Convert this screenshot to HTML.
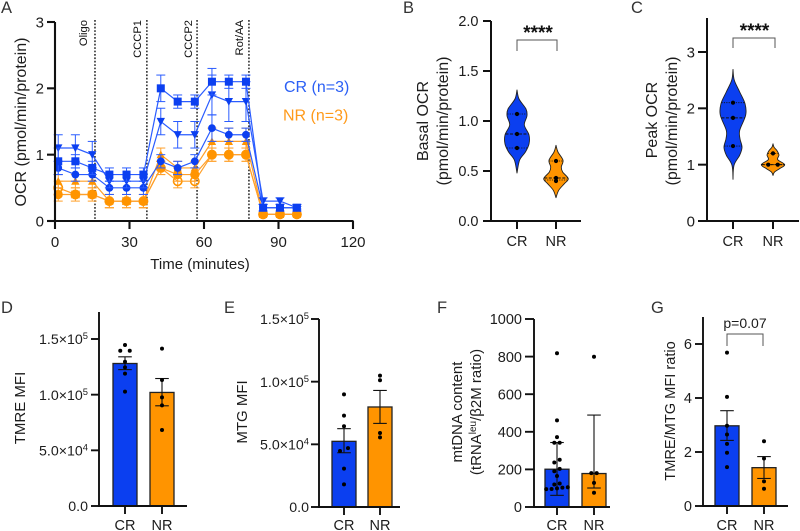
<!DOCTYPE html>
<html lang="en">
<head>
<meta charset="utf-8">
<title>Mitochondrial function panels</title>
<style>
  html, body { margin: 0; padding: 0; background: #fff; }
  #figure { display: block; width: 800px; height: 531px; font-family: "Liberation Sans", Arial, sans-serif; filter: blur(0.35px); }
  text { fill: #1c1c1c; }
  .letter { font-size: 16.5px; fill: #333; }
  .title { font-size: 15.5px; text-anchor: middle; }
  .inj { font-size: 11.2px; text-anchor: end; fill: #111; }
</style>
</head>
<body>
<svg id="figure" xmlns="http://www.w3.org/2000/svg" width="800" height="531" viewBox="0 0 800 531">
  <rect x="0" y="0" width="800" height="531" fill="#fff"/>

  <text class="letter" x="1" y="13">A</text>
  <text class="letter" x="403" y="13">B</text>
  <text class="letter" x="631" y="13">C</text>
  <text class="letter" x="1" y="313">D</text>
  <text class="letter" x="224" y="313">E</text>
  <text class="letter" x="437" y="313">F</text>
  <text class="letter" x="651" y="313">G</text>

  <g id="panelA">
    <text class="title" style="font-size:16px" transform="translate(26,122) rotate(-90)">OCR (pmol/min/protein)</text>
    <text class="title" style="font-size:15px" x="200" y="269">Time (minutes)</text>
    <text style="font-size:16px;fill:#2a5ff5" x="284" y="92">CR (n=3)</text>
    <text style="font-size:16px;fill:#ff9a1a" x="283" y="120.5">NR (n=3)</text>
    <text class="inj" transform="translate(87,20) rotate(-90)">Oligo</text>
    <text class="inj" transform="translate(141,20) rotate(-90)">CCCP1</text>
    <text class="inj" transform="translate(192,20) rotate(-90)">CCCP2</text>
    <text class="inj" transform="translate(243,20) rotate(-90)">Rot/AA</text>
  </g>

  <g id="panelB">
    <text class="title" style="font-size:16px" transform="translate(428,121) rotate(-90)">Basal OCR</text>
    <text class="title" style="font-size:16px" transform="translate(448,121) rotate(-90)">(pmol/min/protein)</text>
    <path d="M517 51V40H557V51" fill="none" stroke="#555" stroke-width="1"/>
    <text x="538" y="39" text-anchor="middle" style="font-size:19px;font-weight:bold;fill:#111">****</text>
  </g>

  <g id="panelC">
    <text class="title" style="font-size:16px" transform="translate(657,120) rotate(-90)">Peak OCR</text>
    <text class="title" style="font-size:16px" transform="translate(677,121) rotate(-90)">(pmol/min/protein)</text>
    <path d="M733 48V38H775V48" fill="none" stroke="#555" stroke-width="1"/>
    <text x="754.5" y="37" text-anchor="middle" style="font-size:19px;font-weight:bold;fill:#111">****</text>
  </g>

  <g id="panelD">
    <text class="title" style="font-size:15px" transform="translate(25,408) rotate(-90)">TMRE MFI</text>
  </g>

  <g id="panelE">
    <text class="title" style="font-size:15px" transform="translate(247,412) rotate(-90)">MTG MFI</text>
  </g>

  <g id="panelF">
    <text class="title" style="font-size:15px" transform="translate(462,412) rotate(-90)">mtDNA content</text>
    <text class="title" style="font-size:15px" transform="translate(481,412) rotate(-90)">(tRNA<tspan dy="-5" font-size="10">leu</tspan><tspan dy="5">/β2M ratio)</tspan></text>
  </g>

  <g id="panelG">
    <text class="title" style="font-size:14.6px" transform="translate(675,411) rotate(-90)">TMRE/MTG MFI ratio</text>
    <path d="M727 346V334H763V346" fill="none" stroke="#555" stroke-width="1"/>
    <text x="745" y="328" text-anchor="middle" style="font-size:14px">p=0.07</text>
  </g>
</svg>

<script>
// ---------- Panel A data ----------
const timeMinutes = [1.3, 8.2, 15, 21.9, 28.8, 35.6, 42.6, 49.4, 56.3, 63.2, 70, 76.9, 83.8, 90.6, 97.4];
const injectionMinutes = [16.1, 37, 57.2, 78.1];
const aXTicks = [0, 30, 60, 90, 120];
const aYTicks = [0, 1, 2, 3];

const crSquare = [0.9, 0.9, 0.8, 0.7, 0.7, 0.7, 2.0, 1.8, 1.8, 2.1, 2.1, 2.1, 0.2, 0.2, 0.2];
const crSquareErr = [0.2, 0.1, 0.1, 0.1, 0.1, 0.1, 0.2, 0.1, 0.1, 0.2, 0.1, 0.1, 0.05, 0.05, 0.05];
const crTriangle = [1.1, 1.1, 1.0, 0.6, 0.6, 0.6, 1.5, 1.3, 1.3, 1.9, 1.8, 1.8, 0.3, 0.3, 0.2];
const crTriangleErr = [0.2, 0.2, 0.2, 0.1, 0.1, 0.1, 0.2, 0.2, 0.2, 0.3, 0.3, 0.3, 0.05, 0.05, 0.02];
const crCircle = [0.8, 0.7, 0.7, 0.5, 0.5, 0.5, 0.9, 0.8, 0.9, 1.4, 1.3, 1.3, 0.2, 0.2, 0.2];
const crCircleErr = [0.1, 0.1, 0.1, 0.1, 0.1, 0.1, 0.1, 0.1, 0.1, 0.2, 0.1, 0.1, 0.05, 0.05, 0.05];
const nrOpen = [0.5, 0.4, 0.4, 0.3, 0.3, 0.3, 0.8, 0.6, 0.6, 1.0, 1.0, 1.0, 0.1, 0.1, 0.1];
const nrOpenErr = [0.1, 0.1, 0.1, 0.1, 0.1, 0.1, 0.1, 0.1, 0.1, 0.1, 0.1, 0.1, 0.02, 0.02, 0.02];
const nrTriangle = [0.6, 0.6, 0.6, 0.3, 0.3, 0.3, 1.0, 0.8, 0.8, 1.2, 1.2, 1.2, 0.1, 0.1, 0.1];
const nrTriangleErr = [0.1, 0.1, 0.1, 0.1, 0.1, 0.1, 0.1, 0.1, 0.1, 0.2, 0.2, 0.2, 0.02, 0.02, 0.02];
const nrFilled = [0.4, 0.4, 0.4, 0.3, 0.3, 0.3, 0.8, 0.7, 0.7, 1.0, 1.0, 1.0, 0.1, 0.1, 0.1];
const nrFilledErr = [0.1, 0.05, 0.05, 0.1, 0.05, 0.1, 0.1, 0.1, 0.1, 0.1, 0.1, 0.1, 0.02, 0.02, 0.02];

// ---------- Shared ----------
const groups = ['CR', 'NR'];

// ---------- Panel B data ----------
const bYTicks = [0, 0.5, 1, 1.5, 2];
const bYLabels = ['0.0', '0.5', '1.0', '1.5', '2.0'];
const bCrPoints = [1.07, 0.87, 0.73];
const bNrPoints = [0.6, 0.43, 0.40];
const bCrLevels = [1.31, 1.22, 1.12, 1.05, 0.96, 0.86, 0.77, 0.69, 0.61, 0.48];
const bCrDensity = [0, 0.17, 0.75, 0.83, 0.61, 1, 1, 0.7, 0.22, 0];
const bNrLevels = [0.757, 0.69, 0.607, 0.54, 0.49, 0.423, 0.373, 0.307, 0.233];
const bNrDensity = [0, 0.16, 0.57, 0.43, 0.54, 1, 0.68, 0.22, 0];
const bCrQuartiles = [0.73, 0.87, 1.07];
const bNrQuartiles = [0.41, 0.43, 0.6];

// ---------- Panel C data ----------
const cYTicks = [0, 1, 2, 3];
const cYLabels = ['0', '1', '2', '3'];
const cCrPoints = [2.1, 1.83, 1.33];
const cNrPoints = [1.2, 1.0, 1.0];
const cCrLevels = [2.69, 2.5, 2.29, 2.08, 1.88, 1.61, 1.46, 1.31, 1.17, 0.99, 0.74];
const cCrDensity = [0, 0.1, 0.53, 0.95, 1, 0.53, 0.55, 0.71, 0.53, 0.08, 0];
const cNrLevels = [1.37, 1.31, 1.25, 1.17, 1.09, 1.0, 0.93, 0.87, 0.81];
const cNrDensity = [0, 0.09, 0.34, 0.51, 0.4, 1, 0.57, 0.14, 0];
const cCrQuartiles = [1.33, 1.83, 2.1];
const cNrQuartiles = [1.0, 1.0, 1.2];

// ---------- Panel D data ----------
const dYTicks = [0, 50000, 100000, 150000];
const dYLabels = ['0.0', '5.0×10^4', '1.0×10^5', '1.5×10^5'];
const dMeans = [128000, 102000];
const dUpper = [134000, 114500];
const dLower = [122500, 90000];
const dCrPoints = [144600, 139500, 139500, 129600, 124500, 118900, 102700];
const dNrPoints = [141300, 113200, 97600, 90400, 68300];

// ---------- Panel E data ----------
const eYTicks = [0, 50000, 100000, 150000];
const eYLabels = ['0.0', '5.0×10^4', '1.0×10^5', '1.5×10^5'];
const eMeans = [52400, 79800];
const eUpper = [62500, 93000];
const eLower = [43300, 66700];
const eCrPoints = [89900, 72900, 64400, 47000, 44700, 30600, 18100];
const eNrPoints = [104800, 101100, 59000, 55600];

// ---------- Panel F data ----------
const fYTicks = [0, 200, 400, 600, 800, 1000];
const fYLabels = ['0', '200', '400', '600', '800', '1000'];
const fMeans = [201, 178];
const fUpper = [343, 489];
const fLower = [62, 101];
const fCrPoints = [818, 461, 372, 342, 342, 251, 237, 203, 190, 165, 125, 120, 105, 103, 99, 96, 95];
const fNrPoints = [799, 180, 180, 128, 76];

// ---------- Panel G data ----------
const gYTicks = [0, 2, 4, 6];
const gYLabels = ['0', '2', '4', '6'];
const gMeans = [2.97, 1.42];
const gUpper = [3.53, 1.83];
const gLower = [2.43, 1.02];
const gCrPoints = [5.68, 4.04, 2.97, 2.65, 2.3, 1.97, 1.44];
const gNrPoints = [2.4, 1.76, 0.91, 0.64];

// ---------- Helpers ----------
const NS = 'http://www.w3.org/2000/svg';
const AXIS = '#111';
const BLUE = '#0b3ff0';
const BLUE_LINE = '#2a5cff';
const ORANGE = '#ff9400';
const ORANGE_LINE = '#ffa02a';

function mk(parent, tag, attrs, name, text) {
  const el = document.createElementNS(NS, tag);
  for (const k in attrs) el.setAttribute(k, attrs[k]);
  
  
  if (text !== undefined) el.textContent = text;
  parent.appendChild(el);
  return el;
}

function linear(d0, d1, r0, r1) {
  return v => r0 + (v - d0) * (r1 - r0) / (d1 - d0);
}

function line(parent, x1, y1, x2, y2, stroke, width, name, extra) {
  const attrs = Object.assign({ x1, y1, x2, y2, stroke, 'stroke-width': width }, extra || {});
  return mk(parent, 'line', attrs, name);
}

function tickLabel(parent, x, y, label, size, anchor, name) {
  const t = mk(parent, 'text', { x, y, 'text-anchor': anchor, 'font-size': size }, name);
  const parts = String(label).split('^');
  t.appendChild(document.createTextNode(parts[0]));
  if (parts[1]) {
    const sup = document.createElementNS(NS, 'tspan');
    sup.setAttribute('dy', '-5');
    sup.setAttribute('font-size', size * 0.66);
    sup.textContent = parts[1];
    t.appendChild(sup);
  }
  return t;
}

function yAxis(parent, x, yScale, top, bottom, ticks, labels, opt) {
  line(parent, x, top, x, bottom + opt.w / 2, AXIS, opt.w, 'y-axis-line');
  ticks.forEach((v, i) => {
    const y = yScale(v);
    line(parent, x - opt.len, y, x, y, AXIS, opt.w, 'y-axis-tick');
    tickLabel(parent, opt.labelX, y + opt.size * 0.36, labels[i], opt.size, 'end', 'y-axis-tick-label');
  });
}

function xCategoryAxis(parent, x0, x1, y, centers, labels, opt) {
  line(parent, x0, y, x1, y, AXIS, opt.w, 'x-axis-line');
  centers.forEach((c, i) => {
    line(parent, c, y, c, y + opt.len, AXIS, opt.w, 'x-axis-tick');
    tickLabel(parent, c, opt.labelY, labels[i], opt.size, 'middle', 'x-axis-tick-label');
  });
}

function swarm(values, yScale, cx, binPx, step) {
  const sorted = values.slice().sort((a, b) => b - a);
  const out = [];
  let bin = [];
  const flush = () => {
    bin.reverse().forEach((v, i) => {
      out.push({ x: cx + (i - (bin.length - 1) / 2) * step, y: yScale(v) });
    });
    bin = [];
  };
  sorted.forEach(v => {
    if (bin.length && yScale(v) - yScale(bin[0]) > binPx) flush();
    bin.push(v);
  });
  flush();
  return out;
}

function barChart(id, cfg) {
  const g = document.getElementById(id);
  const y = linear(cfg.d0, cfg.d1, cfg.r0, cfg.r1);
  const base = y(0);
  cfg.means.forEach((m, i) => {
    const cx = cfg.centers[i];
    const fill = i === 0 ? BLUE : ORANGE;
    mk(g, 'rect', { x: cx - cfg.barW / 2, y: y(m), width: cfg.barW, height: base - y(m), fill, stroke: '#222', 'stroke-width': 1.3 }, 'bar-' + groups[i].toLowerCase());
    line(g, cx, y(cfg.upper[i]), cx, y(cfg.lower[i]), '#111', 1.1, 'error-bar-stem');
    line(g, cx - 6.8, y(cfg.upper[i]), cx + 6.8, y(cfg.upper[i]), '#111', 1.1, 'error-bar-cap-upper');
    line(g, cx - 6.8, y(cfg.lower[i]), cx + 6.8, y(cfg.lower[i]), '#111', 1.1, 'error-bar-cap-lower');
    swarm(cfg.points[i], y, cx, 3.6, cfg.step).forEach(p => {
      mk(g, 'circle', { cx: p.x, cy: p.y, r: 2, fill: '#000' }, 'data-point-' + groups[i].toLowerCase());
    });
  });
  yAxis(g, cfg.axisX, y, cfg.top, base, cfg.yTicks, cfg.yLabels, { w: 1.9, len: cfg.tickLen, size: cfg.ySize, labelX: cfg.labelX });
  xCategoryAxis(g, cfg.axisX, cfg.axisEnd, base, cfg.centers, groups, { w: 1.9, len: 8, size: 14.5, labelY: 530 });
}

function smoothPath(pts) {
  let d = 'M' + pts[0][0] + ' ' + pts[0][1];
  for (let i = 0; i < pts.length - 1; i++) {
    const p0 = pts[Math.max(0, i - 1)], p1 = pts[i], p2 = pts[i + 1], p3 = pts[Math.min(pts.length - 1, i + 2)];
    const c1x = p1[0] + (p2[0] - p0[0]) / 6, c1y = p1[1] + (p2[1] - p0[1]) / 6;
    const c2x = p2[0] - (p3[0] - p1[0]) / 6, c2y = p2[1] - (p3[1] - p1[1]) / 6;
    d += ' C' + c1x.toFixed(2) + ' ' + c1y.toFixed(2) + ' ' + c2x.toFixed(2) + ' ' + c2y.toFixed(2) + ' ' + p2[0].toFixed(2) + ' ' + p2[1].toFixed(2);
  }
  return d;
}

function violin(g, y, cx, levels, density, maxHalf, quartiles, points, fill, name) {
  const right = levels.map((v, i) => [cx + density[i] * maxHalf, y(v)]);
  const left = levels.map((v, i) => [cx - density[i] * maxHalf, y(v)]).reverse();
  const dRight = smoothPath(right);
  const dLeft = smoothPath(left).replace(/^M[^C]*/, '');
  mk(g, 'path', { d: dRight + dLeft + ' Z', fill, stroke: '#222', 'stroke-width': 0.9, 'stroke-linejoin': 'round' }, 'violin-' + name);
  quartiles.forEach((q, i) => {
    let half = 0;
    for (let k = 0; k < levels.length - 1; k++) {
      if (q <= levels[k] && q >= levels[k + 1]) {
        const t = (levels[k] - q) / (levels[k] - levels[k + 1]);
        half = (density[k] + (density[k + 1] - density[k]) * t) * maxHalf;
      }
    }
    line(g, cx - half, y(q), cx + half, y(q), '#111', i === 1 ? 1 : 0.8, i === 1 ? 'violin-median-' + name : 'violin-quartile-' + name, { 'stroke-dasharray': i === 1 ? '3 1.5' : '1.2 1.2' });
  });
  swarm(points, y, cx, 1.5, 9.5).forEach(p => {
    mk(g, 'circle', { cx: p.x, cy: p.y, r: 2.1, fill: '#000' }, 'data-point-' + name);
  });
}

// ---------- Panel A ----------
(function () {
  const g = document.getElementById('panelA');
  const x = linear(0, 120, 55, 353);
  const y = linear(0, 3, 221, 22);
  injectionMinutes.forEach(m => {
    line(g, x(m), 20, x(m), 221, '#111', 1.4, 'injection-line', { 'stroke-dasharray': '1.7 1.7' });
  });
  function marker(parent, kind, px, py, color, name) {
    if (kind === 'square') mk(parent, 'rect', { x: px - 4, y: py - 4, width: 8, height: 8, fill: color }, name);
    if (kind === 'circle') mk(parent, 'circle', { cx: px, cy: py, r: 3.9, fill: color }, name);
    if (kind === 'bigcircle') mk(parent, 'circle', { cx: px, cy: py, r: 4.6, fill: color }, name);
    if (kind === 'open') mk(parent, 'circle', { cx: px, cy: py, r: 4.2, fill: 'none', stroke: color, 'stroke-width': 1.6 }, name);
    if (kind === 'down') mk(parent, 'path', { d: 'M' + (px - 4.2) + ' ' + (py - 3.6) + 'H' + (px + 4.2) + 'L' + px + ' ' + (py + 4.2) + 'Z', fill: color }, name);
    if (kind === 'up') mk(parent, 'path', { d: 'M' + (px - 4.2) + ' ' + (py + 3.6) + 'H' + (px + 4.2) + 'L' + px + ' ' + (py - 4.2) + 'Z', fill: color }, name);
  }
  function series(name, vals, errs, kind, color, lineColor) {
    const s = mk(g, 'g', {}, 'series-' + name);
    const pts = vals.map((v, i) => x(timeMinutes[i]).toFixed(2) + ',' + y(v).toFixed(2)).join(' ');
    mk(s, 'polyline', { points: pts, fill: 'none', stroke: lineColor, 'stroke-width': 1.2 }, 'series-line-' + name);
    vals.forEach((v, i) => {
      const px = x(timeMinutes[i]);
      const hi = y(v + errs[i]), lo = y(v - errs[i]);
      line(s, px, hi, px, lo, lineColor, 1, 'error-bar-stem-' + name);
      line(s, px - 4.5, hi, px + 4.5, hi, lineColor, 1, 'error-bar-cap-' + name);
      line(s, px - 4.5, lo, px + 4.5, lo, lineColor, 1, 'error-bar-cap-' + name);
    });
    vals.forEach((v, i) => {
      marker(s, kind, x(timeMinutes[i]), y(v), color, 'marker-' + name);
    });
  }
  series('nr-open-circle', nrOpen, nrOpenErr, 'open', ORANGE, ORANGE_LINE);
  series('nr-triangle-up', nrTriangle, nrTriangleErr, 'up', ORANGE, ORANGE_LINE);
  series('nr-filled-circle', nrFilled, nrFilledErr, 'bigcircle', ORANGE, ORANGE_LINE);
  series('cr-circle', crCircle, crCircleErr, 'circle', BLUE, BLUE_LINE);
  series('cr-triangle-down', crTriangle, crTriangleErr, 'down', BLUE, BLUE_LINE);
  series('cr-square', crSquare, crSquareErr, 'square', BLUE, BLUE_LINE);

  yAxis(g, 55, y, 22, 221, aYTicks, aYTicks, { w: 2.1, len: 8, size: 15, labelX: 44 });
  line(g, 55, 221, 353.5, 221, AXIS, 2.1, 'x-axis-line');
  aXTicks.forEach(v => {
    line(g, x(v), 221, x(v), 229, AXIS, 2.1, 'x-axis-tick');
    tickLabel(g, x(v), 247, v, 15, 'middle', 'x-axis-tick-label');
  });
})();

// ---------- Panel B ----------
(function () {
  const g = document.getElementById('panelB');
  const y = linear(0, 2, 221, 21);
  const c = [517, 556];
  violin(g, y, c[0], bCrLevels, bCrDensity, 12, bCrQuartiles, bCrPoints, BLUE, 'cr');
  violin(g, y, c[1], bNrLevels, bNrDensity, 12.3, bNrQuartiles, bNrPoints, ORANGE, 'nr');
  yAxis(g, 491, y, 21, 221, bYTicks, bYLabels, { w: 2, len: 8, size: 14.5, labelX: 478.5 });
  xCategoryAxis(g, 491, 581, 221, c, groups, { w: 2, len: 8, size: 14.5, labelY: 246 });
})();

// ---------- Panel C ----------
(function () {
  const g = document.getElementById('panelC');
  const y = linear(0, 3, 221, 52);
  const c = [733, 773];
  violin(g, y, c[0], cCrLevels, cCrDensity, 12.7, cCrQuartiles, cCrPoints, BLUE, 'cr');
  violin(g, y, c[1], cNrLevels, cNrDensity, 11.7, cNrQuartiles, cNrPoints, ORANGE, 'nr');
  yAxis(g, 707, y, 18, 221, cYTicks, cYLabels, { w: 2, len: 9, size: 15, labelX: 695 });
  xCategoryAxis(g, 707, 799, 221, c, groups, { w: 2, len: 8, size: 14.5, labelY: 246 });
})();

// ---------- Panels D–G ----------
barChart('panelD', { d0: 0, d1: 150000, r0: 506, r1: 339, means: dMeans, upper: dUpper, lower: dLower, points: [dCrPoints, dNrPoints], centers: [125, 162], barW: 24, step: 9.5, axisX: 99, axisEnd: 187, top: 312, yTicks: dYTicks, yLabels: dYLabels, tickLen: 8, ySize: 14.2, labelX: 88 });
barChart('panelE', { d0: 0, d1: 150000, r0: 507, r1: 319, means: eMeans, upper: eUpper, lower: eLower, points: [eCrPoints, eNrPoints], centers: [344, 380], barW: 24, step: 8, axisX: 319, axisEnd: 400, top: 319, yTicks: eYTicks, yLabels: eYLabels, tickLen: 8, ySize: 14.2, labelX: 309 });
barChart('panelF', { d0: 0, d1: 1000, r0: 507, r1: 319, means: fMeans, upper: fUpper, lower: fLower, points: [fCrPoints, fNrPoints], centers: [557, 594], barW: 24, step: 5.4, axisX: 534, axisEnd: 610, top: 319, yTicks: fYTicks, yLabels: fYLabels, tickLen: 9, ySize: 14.5, labelX: 522 });
barChart('panelG', { d0: 0, d1: 6, r0: 506, r1: 344, means: gMeans, upper: gUpper, lower: gLower, points: [gCrPoints, gNrPoints], centers: [727, 764], barW: 24, step: 6, axisX: 703, axisEnd: 788, top: 317, yTicks: gYTicks, yLabels: gYLabels, tickLen: 8, ySize: 14.5, labelX: 692 });
</script>
</body>
</html>
